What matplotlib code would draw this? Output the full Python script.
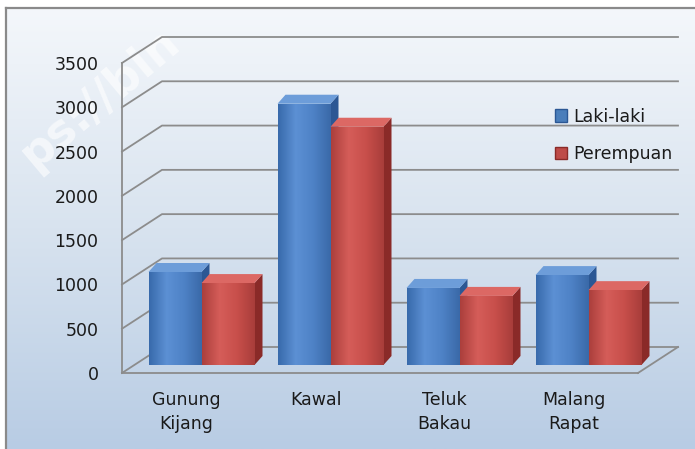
import numpy as np
import matplotlib
matplotlib.use('Agg')
import matplotlib.pyplot as plt
from matplotlib.colors import LinearSegmentedColormap
from matplotlib.patches import Polygon, Patch
from matplotlib.lines import Line2D

categories = ['Gunung\nKijang', 'Kawal', 'Teluk\nBakau', 'Malang\nRapat']
laki = [1050, 2950, 870, 1015]
perempuan = [925, 2690, 780, 845]
yticks = [0, 500, 1000, 1500, 2000, 2500, 3000, 3500]
series_names = ['Laki-laki', 'Perempuan']

plt.rcParams['font.family'] = ['DejaVu Sans']

W, H = 695, 449
fig = plt.figure(figsize=(W / 100, H / 100), dpi=100)
fig.patch.set_facecolor('white')

# ---- background panel with gradient and border
bg = fig.add_axes([0, 0, 1, 1], zorder=-10)
bg.set_xlim(0, 1)
bg.set_ylim(0, 1)
bg.axis('off')
grad = np.linspace(0, 1, 256).reshape(-1, 1)
cmap_bg = LinearSegmentedColormap.from_list('bg', ['#f4f7fb', '#d8e3ef', '#b8cce4'])
bx0, by1 = 6 / W, 1 - 8 / H
bg.imshow(grad, cmap=cmap_bg, aspect='auto', extent=(bx0, 1, 0, by1), origin='upper')
bg.add_line(Line2D([bx0, 1], [by1, by1], color='#8a8a8a', lw=1.6))
bg.add_line(Line2D([bx0, bx0], [0, by1], color='#8a8a8a', lw=1.6))

# watermark
fig.text(34 / W, 1 - 170 / H, 'ps://bin', rotation=40, rotation_mode='anchor',
         ha='left', va='baseline', fontsize=33, fontweight='bold', color='white',
         alpha=0.6, zorder=-5)

# ---- main axes (front plane)
L, B = 122, 373
AW, AH = 516, 310
ax = fig.add_axes([L / W, 1 - B / H, AW / W, AH / H])
ax.patch.set_alpha(0)
ax.set_xlim(-0.5, 3.5)
ax.set_ylim(0, 3500)
ux = 4 / AW
uy = 3500 / AH

gcol = '#8c8c8c'
dxw, dyw = 40 * ux, 26 * uy
xend = -0.5 + 556 * ux
for y in yticks:
    ax.add_line(Line2D([-0.5, -0.5 + dxw, xend], [y, y + dyw, y + dyw],
                       color=gcol, lw=1.3, clip_on=False, zorder=1))
ax.add_line(Line2D([3.5, 3.5 + dxw], [0, dyw], color=gcol, lw=1.3, clip_on=False, zorder=1))

for s in ['top', 'right']:
    ax.spines[s].set_visible(False)
for s in ['left', 'bottom']:
    ax.spines[s].set_color(gcol)
    ax.spines[s].set_linewidth(1.3)
    ax.spines[s].set_zorder(1)

ax.set_yticks(yticks)
ax.set_xticks(range(len(categories)))
ax.set_xticklabels(categories, linespacing=1.4)
ax.tick_params(axis='y', length=0, pad=17, labelsize=12.5, labelcolor='#1a1a1a')
ax.tick_params(axis='x', length=0, pad=13, labelsize=12.5, labelcolor='#1a1a1a')

# ---- bars
ox, oy = 15 * ux, 8 * uy
bw = 53 * ux
ddx, ddy = 8 * ux, 9 * uy

styles = [
    dict(grad=['#386aab', '#5c90d4', '#4e82c6', '#3a69a8'], side='#2b5794', top='#6d9dd9'),
    dict(grad=['#ab3f3c', '#d55d59', '#c84f4b', '#a83d3a'], side='#8a2a28', top='#dc6864'),
]
cmaps = [LinearSegmentedColormap.from_list('c%d' % k, st['grad']) for k, st in enumerate(styles)]
hgrad = np.linspace(0, 1, 128).reshape(1, -1)

x = np.arange(len(categories))
bars_l = ax.bar(x + ox - bw / 2, laki, width=bw, bottom=oy, color='#4a7ebb', zorder=3)
bars_p = ax.bar(x + ox + bw / 2, perempuan, width=bw, bottom=oy, color='#be4b48', zorder=3)

z = 3
for i in range(len(categories)):
    for k, bar in enumerate([bars_l[i], bars_p[i]]):
        st = styles[k]
        x0 = bar.get_x()
        x1 = x0 + bar.get_width()
        y0 = bar.get_y()
        y1 = y0 + bar.get_height()
        side = Polygon([(x1, y0), (x1 + ddx, y0 + ddy), (x1 + ddx, y1 + ddy), (x1, y1)],
                       closed=True, facecolor=st['side'], edgecolor='none', zorder=z, clip_on=False)
        top = Polygon([(x0, y1), (x0 + ddx, y1 + ddy), (x1 + ddx, y1 + ddy), (x1, y1)],
                      closed=True, facecolor=st['top'], edgecolor='none', zorder=z, clip_on=False)
        ax.add_patch(side)
        ax.add_patch(top)
        bar.set_zorder(z + 0.1)
        im = ax.imshow(hgrad, cmap=cmaps[k], aspect='auto', extent=(x0, x1, y0, y1),
                       zorder=z + 0.2, interpolation='bilinear')
        im.set_clip_path(bar)
        z += 1

ax.set_xlim(-0.5, 3.5)
ax.set_ylim(0, 3500)
ax.set_aspect('auto')

handles = [Patch(facecolor='#4a7ebb', edgecolor='#2b5794'),
           Patch(facecolor='#be4b48', edgecolor='#8a2a28')]
fig.legend(handles, series_names, loc='upper left', bbox_to_anchor=(539 / W, 1 - 92 / H),
           frameon=False, fontsize=12.5, labelspacing=1.1, handlelength=0.7, handleheight=0.7,
           handletextpad=0.35, labelcolor='#1a1a1a')

fig.savefig('out.png', dpi=100)
